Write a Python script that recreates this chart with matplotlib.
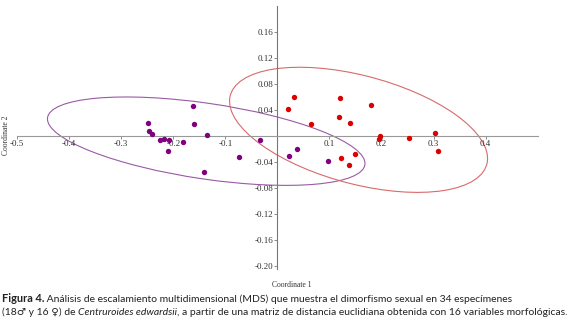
import numpy as np
import matplotlib.pyplot as plt
from matplotlib.patches import Ellipse

# MDS coordinates
purple_x = [-0.163, -0.248, -0.161, -0.247, -0.240, -0.135, -0.225, -0.217, -0.209,
            -0.182, -0.210, -0.033, -0.073, -0.140, 0.038, 0.023, 0.098]
purple_y = [0.046, 0.0195, 0.018, 0.008, 0.0026, 0.001, -0.0066, -0.005, -0.007,
            -0.010, -0.0235, -0.0057, -0.032, -0.055, -0.021, -0.031, -0.038]
red_x = [0.031, 0.020, 0.120, 0.179, 0.119, 0.065, 0.139, 0.197, 0.196,
         0.252, 0.302, 0.309, 0.122, 0.149, 0.137]
red_y = [0.0595, 0.042, 0.0585, 0.0477, 0.0297, 0.018, 0.0195, -0.001, -0.005,
         -0.0036, 0.004, -0.0236, -0.034, -0.028, -0.0446]

xticks = [-0.5, -0.4, -0.3, -0.2, -0.1, 0.1, 0.2, 0.3, 0.4]
xtick_labels = ['-0.5', '-0.4', '-0.3', '-0.2', '-0.1', '0.1', '0.2', '0.3', '0.4']
yticks = [0.16, 0.12, 0.08, 0.04, -0.04, -0.08, -0.12, -0.16, -0.20]
ytick_labels = ['0.16', '0.12', '0.08', '0.04', '-0.04', '-0.08', '-0.12', '-0.16', '-0.20']

# F(2, n-2) 95% quantiles for the concentration ellipses
f95 = {17: 3.68, 15: 3.81}


def conf_ellipse(x, y, color, ax):
    x = np.asarray(x)
    y = np.asarray(y)
    n = len(x)
    cov = np.cov(x, y)
    vals, vecs = np.linalg.eigh(cov)
    k = np.sqrt(2 * (n - 1) / (n - 2) * f95[n])
    angle = np.degrees(np.arctan2(vecs[1, 1], vecs[0, 1]))
    e = Ellipse((x.mean(), y.mean()), 2 * k * np.sqrt(vals[1]), 2 * k * np.sqrt(vals[0]),
                angle=angle, fill=False, edgecolor=color, lw=0.8)
    ax.add_patch(e)


fig = plt.figure(figsize=(5.8, 3.28), dpi=100)
ax = fig.add_axes([0.0293, 0.180, 0.898, 0.8018])

conf_ellipse(purple_x, purple_y, '#9a5aa6', ax)
conf_ellipse(red_x, red_y, '#d86a6a', ax)
ax.scatter(purple_x, purple_y, s=15, color='#800080', zorder=3, linewidths=0)
ax.scatter(red_x, red_y, s=15, color='#dd0000', zorder=3, linewidths=0)

ax.set_xlim(-0.5, 0.5)
ax.set_ylim(-0.205, 0.2)
for s in ['top', 'right']:
    ax.spines[s].set_visible(False)
ax.spines['left'].set_position(('data', 0))
ax.spines['bottom'].set_position(('data', 0))
ax.spines['left'].set_color('#777777')
ax.spines['bottom'].set_color('#999999')
ax.spines['left'].set_linewidth(0.8)
ax.spines['bottom'].set_linewidth(0.8)

ax.set_xticks(xticks)
ax.set_xticklabels(xtick_labels)
ax.set_yticks(yticks)
ax.set_yticklabels(ytick_labels)
ax.tick_params(labelsize=6.5, length=2, width=0.6, color='#777777', pad=1,
               labelcolor='#333333')
for lab in ax.get_xticklabels() + ax.get_yticklabels():
    lab.set_family('Liberation Serif')

fig.text(6 / 580, 1 - 135 / 328, 'Coordinate 2', rotation=90, ha='center', va='center',
         family='Liberation Serif', fontsize=5.5, color='#333333')
fig.text(292 / 580, 1 - 285 / 328, 'Coordinate 1', ha='center', va='center',
         family='Liberation Serif', fontsize=5.5, color='#333333')

cap = dict(fontsize=7.5, color='#222222', family=['Lato', 'DejaVu Sans'])
t1 = fig.text(2 / 580, 1 - 302 / 328, 'Figura 4.', fontweight='bold', fontsize=7.9,
              va='baseline', color='#222222', family=['Lato', 'DejaVu Sans'])
plt.annotate(' Análisis de escalamiento multidimensional (MDS) que muestra el dimorfismo sexual en 34 especímenes',
             xy=(1, 0), xycoords=t1, va='bottom', **cap)
t2 = fig.text(2 / 580, 1 - 315 / 328, '(18♂ y 16 ♀) de ', va='baseline', **cap)
t3 = plt.annotate('Centruroides edwardsii', xy=(1, 0), xycoords=t2, va='bottom',
                  style='italic', **cap)
plt.annotate(', a partir de una matriz de distancia euclidiana obtenida con 16 variables morfológicas.',
             xy=(1, 0), xycoords=t3, va='bottom', **cap)

fig.savefig('out.png', dpi=100)
